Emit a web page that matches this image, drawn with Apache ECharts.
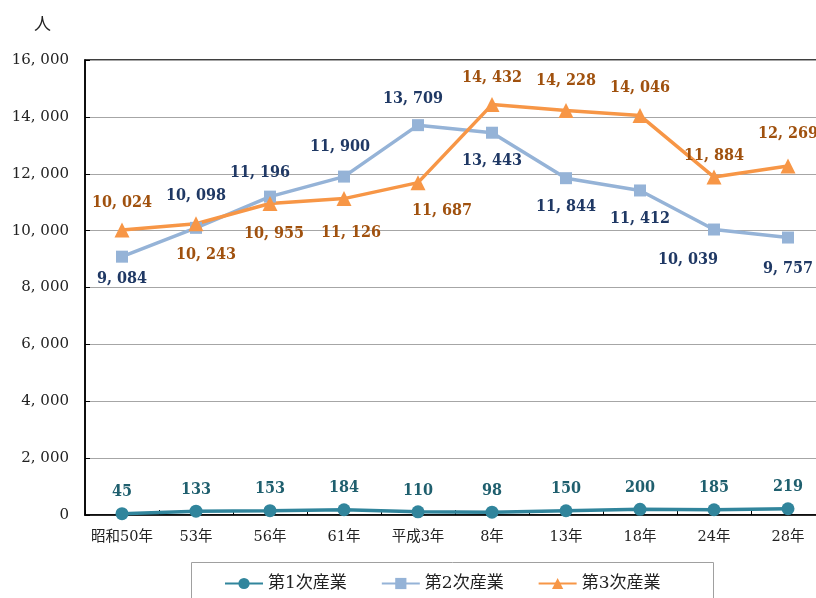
<!DOCTYPE html>
<html><head><meta charset="utf-8">
<script src="https://cdn.jsdelivr.net/npm/echarts@6/dist/echarts.min.js"></script>
<style>html,body{margin:0;padding:0;background:#fff}#c{width:816px;height:598px}</style>
</head><body><div id="c"></div>
<script>
const categories = ['昭和50年','53年','56年','61年','平成3年','8年','13年','18年','24年','28年'];
const primary = [45,133,153,184,110,98,150,200,185,219];
const secondary = [9084,10098,11196,11900,13709,13443,11844,11412,10039,9757];
const tertiary = [10024,10243,10955,11126,11687,14432,14228,14046,11884,12269];
const seriesNames = ['第1次産業','第2次産業','第3次産業'];
const yTicks = {min:0, max:16000, interval:2000};

// label placement per point (style only)
const pos2 = [['bottom',0,0],['top',0,-10],['top',-10,-2],['top',-4,-8],['top',-5,-4],['bottom',0,6],['bottom',0,7],['bottom',0,6],['bottom',-26,8],['bottom',0,9]];
const pos3 = [['top',0,-4],['bottom',10,8],['bottom',4,7],['bottom',7,11],['bottom',24,5],['top',0,-3],['top',0,-6],['top',0,-4],['top',0,2],['top',0,-9]];

const SERIF = '"DejaVu Serif Condensed","DejaVu Serif","Noto Sans CJK JP",serif';
const SERIF2 = '"DejaVu Serif","Noto Sans CJK JP",serif';
const fmt = v => { const s = String(v); return s.length > 3 ? s.slice(0, s.length-3) + ', ' + s.slice(-3) : s; };

function withLabels(vals, pos, color){
  return vals.map((v,i)=>({value:v, label:{position:pos[i][0], offset:[pos[i][1],pos[i][2]], color:color}}));
}

const chart = echarts.init(document.getElementById('c'));
chart.setOption({
  animation:false,
  backgroundColor:'#fff',
  grid:{left:85, width:740, top:60, bottom:83, outerBoundsMode:'none', containLabel:false, show:true, borderColor:'#000', borderWidth:1.5, backgroundColor:'transparent'},
  graphic:[{type:'rect', shape:{x:191.5, y:562.5, width:522, height:60}, style:{fill:'none', stroke:'#a0a0a0', lineWidth:1}, z:0}],
  legend:{left:219, top:570, itemGap:34, itemWidth:38, itemHeight:14,
    textStyle:{fontFamily:SERIF2, fontSize:17, color:'#222'}, data:seriesNames},
  xAxis:{type:'category', data:categories, boundaryGap:true,
    axisLine:{lineStyle:{color:'#000', width:1.5}},
    axisTick:{show:true, inside:true, length:5, lineStyle:{color:'#000'}},
    axisLabel:{interval:0, fontFamily:SERIF2, fontSize:14.5, color:'#222', margin:15}},
  yAxis:{type:'value', min:yTicks.min, max:yTicks.max, interval:yTicks.interval,
    name:'人', nameLocation:'end', nameGap:26, nameTextStyle:{fontFamily:SERIF2, fontSize:17, color:'#222', align:'right', padding:[0,34,0,0]},
    axisLine:{show:true, lineStyle:{color:'#000', width:1.5}},
    axisTick:{show:true, inside:true, length:5, lineStyle:{color:'#000'}},
    splitLine:{lineStyle:{color:'#a6a6a6', width:1}},
    axisLabel:{fontFamily:SERIF2, fontSize:15, color:'#222', margin:16, formatter:fmt}},
  series:[
    {name:seriesNames[0], type:'line', data:primary, symbol:'circle', symbolSize:13,
      lineStyle:{width:3.5, color:'#31859C'}, itemStyle:{color:'#31859C'},
      label:{show:true, position:'top', distance:7, formatter:p=>fmt(p.value), fontFamily:SERIF, fontWeight:'bold', fontSize:16, color:'#1F5F6E'}},
    {name:seriesNames[1], type:'line', data:withLabels(secondary,pos2,'#1F3864'), symbol:'rect', symbolSize:12,
      lineStyle:{width:3.5, color:'#95B3D7'}, itemStyle:{color:'#95B3D7'},
      label:{show:true, distance:8, formatter:p=>fmt(p.value), fontFamily:SERIF, fontWeight:'bold', fontSize:16}},
    {name:seriesNames[2], type:'line', data:withLabels(tertiary,pos3,'#A0510E'), symbol:'triangle', symbolSize:15,
      lineStyle:{width:3.5, color:'#F79646'}, itemStyle:{color:'#F79646'},
      label:{show:true, distance:8, formatter:p=>fmt(p.value), fontFamily:SERIF, fontWeight:'bold', fontSize:16}}
  ]
});
</script></body></html>
